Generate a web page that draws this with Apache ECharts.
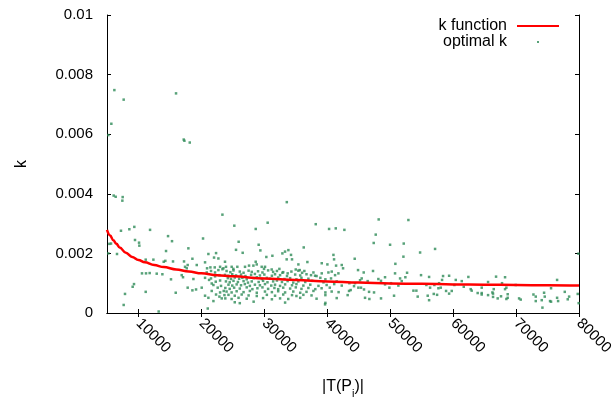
<!DOCTYPE html>
<html><head><meta charset="utf-8">
<script src="https://cdn.jsdelivr.net/npm/echarts@6/dist/echarts.min.js"></script>
<style>html,body{margin:0;padding:0;background:#fff}#c{width:616px;height:400px}</style>
</head><body><div id="c"></div>
<script>
const xTicks = [10000, 20000, 30000, 40000, 50000, 60000, 70000, 80000];
const yTicks = [0, 0.002, 0.004, 0.006, 0.008, 0.01];
const xRange = [5000, 80000];
const yRange = [0, 0.01];

// k function curve
const curveX = [5000, 5500, 6000, 6500, 7000, 8000, 9000, 10000, 11000, 12500, 14000, 16000, 18000, 20000, 22500, 25000, 30000, 35000, 40000, 45000, 50000, 55000, 60000, 65000, 70000, 75000, 80000];
const curveY = [0.00279, 0.00260, 0.00244, 0.00232, 0.00220, 0.00202, 0.00188, 0.00178, 0.00170, 0.00161, 0.00154, 0.00146, 0.00139, 0.00133, 0.00127, 0.00123, 0.00116, 0.00111, 0.00106, 0.00102, 0.00099, 0.00098, 0.00096, 0.00095, 0.00094, 0.00093, 0.00092];

// optimal k points
const optimalK = [
[6170,0.00748],[7650,0.00716],[15970,0.00737],[5690,0.00635],[5215,0.00597],[17190,0.00582],[17300,0.00578],[18150,0.00572],[6060,0.00394],[6380,0.00390],[7490,0.00389],[7440,0.00377],[33570,0.00372],[23340,0.00330],
[5370,0.00232],[5640,0.00233],[5210,0.00200],[7220,0.00276],[8550,0.00281],[9340,0.00289],[11840,0.00279],[14700,0.00258],[9450,0.00245],[10090,0.00236],[10140,0.00226],[15330,0.00241],[20260,0.00250],[17930,0.00217],[14380,0.00208],[6590,0.00198],[11150,0.00179],[12370,0.00179],[14010,0.00172],[14270,0.00175],[15490,0.00173],[17240,0.00173],[17400,0.00155],[17670,0.00150],[17820,0.00161],[19260,0.00161],[18570,0.00182],[20580,0.00170],[21110,0.00198],[22330,0.00201],[22010,0.00186],[22700,0.00183],[20900,0.00150],[21430,0.00153],[22120,0.00153],[22970,0.00155],[23500,0.00150],[10560,0.00133],[11200,0.00133],[11780,0.00134],[12900,0.00132],[13800,0.00130],[15170,0.00113],[16870,0.00127],[17080,0.00120],[18730,0.00114],[17820,0.00085],[18570,0.00076],[19150,0.00079],[20050,0.00085],[20580,0.00118],[21530,0.00116],[22170,0.00123],[22860,0.00127],[21640,0.00099],[22280,0.00105],[22970,0.00109],[20580,0.00058],[21910,0.00040],[22330,0.00062],[22970,0.00069],[23230,0.00049],[9290,0.00097],[9080,0.00088],[11150,0.00071],[7860,0.00064],[15920,0.00068],[7650,0.00027],[13210,0.00005],[21010,0.00015],
[20850,0.00136],[21530,0.00141],[22170,0.00136],[22700,0.00144],[23340,0.00147],[21220,0.00111],[21910,0.00094],[22590,0.00085],[23120,0.00091],[23550,0.00074],[21640,0.00074],[22860,0.00055],[23660,0.00060],[21110,0.00051],
[25230,0.00293],[30530,0.00303],[28630,0.00282],[38170,0.00298],[40290,0.00282],[41350,0.00284],[42720,0.00279],[25920,0.00239],[25500,0.00212],[26560,0.00202],[29100,0.00229],[29370,0.00210],[30320,0.00188],[31280,0.00192],[32870,0.00200],[33290,0.00206],[33820,0.00211],[33550,0.00180],[34240,0.00195],[34400,0.00180],[36260,0.00220],[36840,0.00171],[35410,0.00163],[34990,0.00146],[35620,0.00144],[36360,0.00141],[39120,0.00167],[40020,0.00163],[41080,0.00180],[40980,0.00195],[41400,0.00159],[42300,0.00161],[23750,0.00172],[23910,0.00155],[24810,0.00155],[25710,0.00155],[25080,0.00148],[26930,0.00155],[27570,0.00159],[28260,0.00159],[28630,0.00172],[28790,0.00163],[29580,0.00155],[30110,0.00155],[29950,0.00148],[31170,0.00146],[32390,0.00148],[32870,0.00135],[33710,0.00133],[37800,0.00136],[37420,0.00127],[38060,0.00125],[39120,0.00133],[40180,0.00136],[40710,0.00139],[41770,0.00133],[41240,0.00127],[42510,0.00150],
[24000,0.00141],[24600,0.00137],[25100,0.00143],[26100,0.00139],[26700,0.00135],[27500,0.00142],[28000,0.00138],[29000,0.00140],[29700,0.00136],[30600,0.00143],[31400,0.00138],[32000,0.00141],[33000,0.00137],[34300,0.00139],[35400,0.00142],[36000,0.00135],
[23750,0.00128],[24300,0.00125],[24900,0.00130],[25500,0.00126],[26300,0.00129],[27000,0.00124],[27900,0.00128],[28500,0.00131],[29300,0.00126],[30000,0.00129],[31200,0.00125],[31700,0.00130],[32500,0.00127],[33600,0.00124],[34900,0.00129],[35700,0.00126],[36700,0.00130],[38300,0.00124],
[24200,0.00117],[24700,0.00114],[25300,0.00119],[26000,0.00115],[26500,0.00118],[27200,0.00113],[28300,0.00117],[28800,0.00120],[29600,0.00114],[30400,0.00118],[30900,0.00115],[32200,0.00119],[33200,0.00114],[34100,0.00117],[35100,0.00113],[35900,0.00118],[37000,0.00115],[38900,0.00118],[39700,0.00113],[40600,0.00116],
[23900,0.00106],[24500,0.00103],[25100,0.00108],[25800,0.00104],[26700,0.00107],[27400,0.00102],[28000,0.00106],[29100,0.00104],[29800,0.00108],[30500,0.00103],[31400,0.00106],[32000,0.00109],[32800,0.00104],[33700,0.00107],[34600,0.00102],[35400,0.00106],[36500,0.00104],[37600,0.00108],[39400,0.00103],[41500,0.00106],
[24300,0.00095],[24900,0.00092],[25600,0.00096],[26300,0.00093],[26900,0.00097],[27700,0.00091],[28500,0.00095],[29300,0.00093],[30100,0.00097],[31100,0.00092],[31700,0.00095],[32500,0.00091],[33300,0.00096],[34400,0.00093],[35100,0.00097],[36200,0.00092],[37300,0.00095],[38600,0.00091],[39900,0.00094],[41100,0.00097],[42300,0.00092],
[23800,0.00084],[24500,0.00081],[25200,0.00085],[26100,0.00082],[27200,0.00086],[28100,0.00080],[28900,0.00083],[29700,0.00086],[30600,0.00081],[31600,0.00084],[32200,0.00080],[33000,0.00085],[34100,0.00082],[35000,0.00086],[35900,0.00081],[37000,0.00084],[38100,0.00080],[39100,0.00083],[40400,0.00085],
[24000,0.00072],[24800,0.00069],[25600,0.00073],[26700,0.00070],[27700,0.00074],[28800,0.00068],[30100,0.00072],[31200,0.00070],[32200,0.00073],[33300,0.00069],[34600,0.00072],[35700,0.00068],[36700,0.00071],[37800,0.00074],[39700,0.00069],[40700,0.00072],[41800,0.00070],
[24300,0.00061],[25300,0.00058],[26400,0.00062],[27500,0.00059],[28800,0.00057],[30400,0.00061],[31700,0.00058],[33000,0.00062],[34400,0.00060],[35100,0.00057],[36200,0.00061],[37500,0.00059],[39700,0.00060],
[23800,0.00049],[24800,0.00047],[25900,0.00051],[27200,0.00048],[29800,0.00050],[31200,0.00046],[32500,0.00049],[33800,0.00047],[35700,0.00051],[38300,0.00048],[41500,0.00050],
[25300,0.00036],[26100,0.00033],[28300,0.00038],[33300,0.00035],[39700,0.00034],[39650,0.00029],
[48170,0.00314],[52890,0.00312],[47700,0.00263],[47380,0.00235],[49980,0.00229],[52150,0.00233],[54750,0.00203],[57130,0.00215],[44360,0.00182],[52100,0.00189],[50820,0.00165],[44890,0.00144],[45790,0.00136],[47270,0.00141],[45470,0.00116],[45210,0.00110],[44410,0.00100],[44250,0.00090],[43510,0.00100],[46420,0.00107],[48120,0.00114],[48540,0.00108],[49180,0.00120],[50130,0.00100],[50770,0.00133],[51570,0.00116],[52410,0.00120],[52680,0.00135],[51830,0.00107],[44940,0.00085],[45360,0.00085],[45840,0.00079],[46640,0.00071],[47430,0.00069],[48540,0.00049],[49180,0.00096],[49870,0.00085],[51300,0.00092],[50610,0.00058],[43240,0.00060],[43460,0.00074],[43720,0.00077],[46000,0.00051],[46690,0.00047],[54900,0.00127],[56180,0.00121],[57020,0.00094],[55750,0.00094],[56340,0.00085],[57770,0.00100],[58240,0.00111],[58400,0.00124],[59360,0.00125],[60420,0.00111],[61370,0.00107],[61690,0.00088],[53690,0.00075],[54160,0.00075],[54370,0.00055],[55960,0.00058],[56180,0.00043],[56920,0.00064],[57450,0.00061],[57660,0.00083],[58030,0.00085],[58880,0.00074],[59360,0.00065],[59780,0.00074],[60200,0.00094],
[62420,0.00121],[66820,0.00122],[68250,0.00120],[67770,0.00100],[65550,0.00104],[76520,0.00111],[62790,0.00080],[62950,0.00075],[64540,0.00085],[63900,0.00067],[64540,0.00067],[64540,0.00062],[65550,0.00060],[66240,0.00069],[66340,0.00065],[66450,0.00080],[66340,0.00054],[67080,0.00049],[67610,0.00056],[68250,0.00080],[68460,0.00085],[68670,0.00063],[68670,0.00051],[68460,0.00047],[69950,0.00094],[70480,0.00049],[70740,0.00045],[72760,0.00062],[73130,0.00055],[73130,0.00040],[74450,0.00068],[74560,0.00055],[74080,0.00043],[74190,0.00018],[75400,0.00040],[75560,0.00038],[75560,0.00083],[76520,0.00051],[76680,0.00040],[77740,0.00071],[78210,0.00046],[78430,0.00055],[79800,0.00064],[79950,0.00033],[79910,0.00199]
];

const FONT = 'Liberation Sans, Arial, sans-serif';
const chart = echarts.init(document.getElementById('c'), null, {renderer: 'canvas'});
const axisLine = {show: true, lineStyle: {color: '#000', width: 1}};
const tick = {show: true, inside: true, length: 4, lineStyle: {color: '#000', width: 1}};
const curve = curveX.map((x, i) => [x, curveY[i]]);

chart.setOption({
  animation: false,
  backgroundColor: '#fff',
  grid: {left: 107, right: 37, top: 15, bottom: 87, containLabel: false, outerBoundsMode: 'none'},
  legend: {
    right: 57, top: 18, orient: 'vertical', align: 'right', padding: 0, itemGap: 0,
    itemWidth: 47, itemHeight: 3, symbolKeepAspect: false,
    textStyle: {fontFamily: FONT, fontSize: 16, color: '#000'},
    itemStyle: {borderWidth: 0},
    data: [
      {name: 'k function', icon: 'path://M0,0 M47,3 M5,0.5 L47,0.5 L47,2.5 L5,2.5 Z'},
      {name: 'optimal k', icon: 'path://M0,0 M47,3 M25,0.5 L27,0.5 L27,2.5 L25,2.5 Z'}
    ]
  },
  xAxis: [{
    type: 'value', min: xRange[0], max: xRange[1], position: 'bottom',
    axisLine: axisLine, splitLine: {show: false},
    axisTick: Object.assign({customValues: xTicks}, tick),
    axisLabel: {customValues: xTicks, rotate: -45, margin: 8, fontFamily: FONT, fontSize: 15, color: '#000', hideOverlap: false,
      formatter: v => String(v)},
    name: '{n||T(P}{s|i}{n|)|}', nameLocation: 'middle', nameGap: 66,
    nameTextStyle: {fontFamily: FONT, color: '#000', rich: {
      n: {fontFamily: FONT, fontSize: 16, lineHeight: 16, verticalAlign: 'top', color: '#000'},
      s: {fontFamily: FONT, fontSize: 11, lineHeight: 11, padding: [9, 0, 0, 0], verticalAlign: 'top', color: '#000'}
    }}
  }, {
    type: 'value', min: xRange[0], max: xRange[1], position: 'top',
    axisLine: axisLine, splitLine: {show: false},
    axisTick: Object.assign({customValues: xTicks}, tick),
    axisLabel: {show: false}
  }],
  yAxis: [{
    type: 'value', min: yRange[0], max: yRange[1], interval: 0.002, position: 'left',
    axisLine: axisLine, splitLine: {show: false}, axisTick: tick,
    axisLabel: {margin: 14, fontFamily: FONT, fontSize: 15, color: '#000',
      formatter: v => String(+v.toFixed(4))},
    name: 'k', nameLocation: 'middle', nameRotate: 90, nameGap: 77,
    nameTextStyle: {fontFamily: FONT, fontSize: 16, color: '#000'}
  }, {
    type: 'value', min: yRange[0], max: yRange[1], interval: 0.002, position: 'right',
    axisLine: axisLine, splitLine: {show: false}, axisTick: tick,
    axisLabel: {show: false}
  }],
  series: [{
    name: 'k function', type: 'line', data: curve, xAxisIndex: 0, yAxisIndex: 0,
    showSymbol: false, smooth: 0.4, smoothMonotone: 'x',
    color: '#ff0000', lineStyle: {color: '#ff0000', width: 2.5}
  }, {
    name: 'optimal k', type: 'scatter', data: optimalK, xAxisIndex: 0, yAxisIndex: 0,
    symbol: 'rect', symbolSize: 2.5, color: '#2e8b57', itemStyle: {color: '#2e8b57'}
  }]
});
</script></body></html>
